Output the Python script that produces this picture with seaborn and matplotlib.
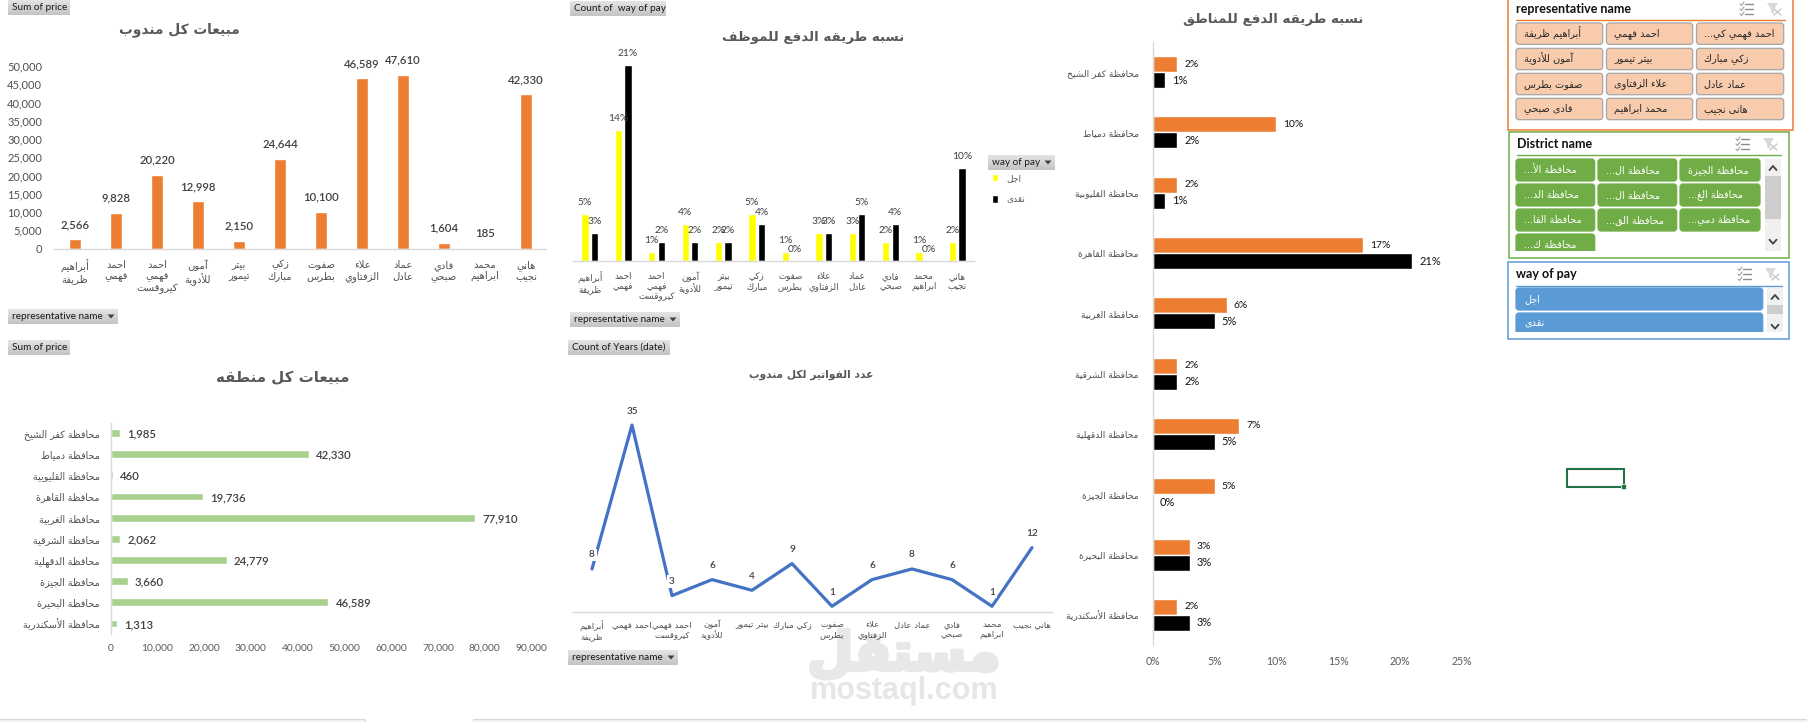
import numpy as np
import pandas as pd
import matplotlib
matplotlib.use('Agg')
import matplotlib.pyplot as plt
import matplotlib.patheffects as pe
from matplotlib.colors import LinearSegmentedColormap
import seaborn as sns
from matplotlib.patches import FancyBboxPatch, Rectangle, Polygon

W, H = 1808, 722

# arabic shaping, matplotlib does not join the letters on its own
AR_FORMS = {
    'ء': ('\uFE80', None, None, None), 'آ': ('\uFE81', '\uFE82', None, None), 'أ': ('\uFE83', '\uFE84', None, None),
    'ا': ('\uFE8D', '\uFE8E', None, None), 'ب': ('\uFE8F', '\uFE90', '\uFE91', '\uFE92'),
    'ة': ('\uFE93', '\uFE94', None, None), 'ت': ('\uFE95', '\uFE96', '\uFE97', '\uFE98'),
    'ج': ('\uFE9D', '\uFE9E', '\uFE9F', '\uFEA0'), 'ح': ('\uFEA1', '\uFEA2', '\uFEA3', '\uFEA4'),
    'خ': ('\uFEA5', '\uFEA6', '\uFEA7', '\uFEA8'), 'د': ('\uFEA9', '\uFEAA', None, None),
    'ذ': ('\uFEAB', '\uFEAC', None, None), 'ر': ('\uFEAD', '\uFEAE', None, None),
    'ز': ('\uFEAF', '\uFEB0', None, None), 'س': ('\uFEB1', '\uFEB2', '\uFEB3', '\uFEB4'),
    'ش': ('\uFEB5', '\uFEB6', '\uFEB7', '\uFEB8'), 'ص': ('\uFEB9', '\uFEBA', '\uFEBB', '\uFEBC'),
    'ض': ('\uFEBD', '\uFEBE', '\uFEBF', '\uFEC0'), 'ط': ('\uFEC1', '\uFEC2', '\uFEC3', '\uFEC4'),
    'ظ': ('\uFEC5', '\uFEC6', '\uFEC7', '\uFEC8'), 'ع': ('\uFEC9', '\uFECA', '\uFECB', '\uFECC'),
    'غ': ('\uFECD', '\uFECE', '\uFECF', '\uFED0'), 'ف': ('\uFED1', '\uFED2', '\uFED3', '\uFED4'),
    'ق': ('\uFED5', '\uFED6', '\uFED7', '\uFED8'), 'ك': ('\uFED9', '\uFEDA', '\uFEDB', '\uFEDC'),
    'ل': ('\uFEDD', '\uFEDE', '\uFEDF', '\uFEE0'), 'م': ('\uFEE1', '\uFEE2', '\uFEE3', '\uFEE4'),
    'ن': ('\uFEE5', '\uFEE6', '\uFEE7', '\uFEE8'), 'ه': ('\uFEE9', '\uFEEA', '\uFEEB', '\uFEEC'),
    'و': ('\uFEED', '\uFEEE', None, None), 'ى': ('\uFEEF', '\uFEF0', None, None),
    'ي': ('\uFEF1', '\uFEF2', '\uFEF3', '\uFEF4'),
}
LAM_ALEF = {'ا': ('\uFEFB', '\uFEFC'), 'أ': ('\uFEF7', '\uFEF8'), 'آ': ('\uFEF5', '\uFEF6')}


def ar_line(s):
    out = []
    i = 0
    while i < len(s):
        c = s[i]
        if c not in AR_FORMS:
            out.append(c)
            i += 1
            continue
        prev = s[i - 1] if i > 0 else ''
        joins_prev = prev in AR_FORMS and AR_FORMS[prev][2] is not None
        if c == 'ل' and i + 1 < len(s) and s[i + 1] in LAM_ALEF:
            out.append(LAM_ALEF[s[i + 1]][1 if joins_prev else 0])
            i += 2
            continue
        nxt = s[i + 1] if i + 1 < len(s) else ''
        joins_next = nxt in AR_FORMS and AR_FORMS[c][2] is not None
        iso, fin, ini, med = AR_FORMS[c]
        if joins_prev and joins_next:
            out.append(med)
        elif joins_prev:
            out.append(fin)
        elif joins_next:
            out.append(ini)
        else:
            out.append(iso)
        i += 1
    return ''.join(reversed(out))


def ar(s):
    return '\n'.join(ar_line(p) for p in s.split('\n'))


# data
rep_names = ['أبراهيم\nظريفة', 'احمد\nفهمي', 'احمد\nفهمي\nكيروقست', 'آمون\nللأدوية', 'بيتر\nتيمور', 'زكي\nمبارك',
             'صفوت\nبطرس', 'علاء\nالزفتاوي', 'عماد\nعادل', 'فادي\nصبحي', 'محمد\nابراهيم', 'هاني\nنجيب']
rep_names_line = ['أبراهيم\nظريفة', 'احمد فهمي', 'احمد فهمي\nكيروقست', 'آمون\nللأدوية', 'بيتر تيمور', 'زكي مبارك',
                  'صفوت\nبطرس', 'علاء\nالزفتاوي', 'عماد عادل', 'فادي\nصبحي', 'محمد\nابراهيم', 'هاني نجيب']
rep_sales = [2566, 9828, 20220, 12998, 2150, 24644, 10100, 46589, 47610, 1604, 185, 42330]
rep_pay_credit = [5, 14, 1, 4, 2, 5, 1, 3, 3, 2, 1, 2]
rep_pay_cash = [3, 21, 2, 2, 2, 4, 0, 3, 5, 4, 0, 10]
rep_invoices = [8, 35, 3, 6, 4, 9, 1, 6, 8, 6, 1, 12]

districts = ['محافظة كفر الشيخ', 'محافظة دمياط', 'محافظة القليوبية', 'محافظة القاهرة', 'محافظة الغربية',
             'محافظة الشرقية', 'محافظة الدقهلية', 'محافظة الجيزة', 'محافظة البحيرة', 'محافظة الأسكندرية']
district_sales = [1985, 42330, 460, 19736, 77910, 2062, 24779, 3660, 46589, 1313]
district_credit = [2, 10, 2, 17, 6, 2, 7, 5, 3, 2]
district_cash = [1, 2, 1, 21, 5, 2, 5, 0, 3, 3]

pay_types = ['اجل', 'نقدى']
ORANGE = '#ED7D31'
GREY_TXT = '#595959'
AR_TXT = '#505050'
DARK_TXT = '#404040'
LAT = ['Lato', 'DejaVu Sans']

sns.set_theme(style='white')
plt.rcParams['font.family'] = LAT
plt.rcParams['axes.unicode_minus'] = False

fig = plt.figure(figsize=(W / 100, H / 100), dpi=100, facecolor='white')


def axes_px(x0, y0, x1, y1, **kw):
    # rect in picture pixels, y going down
    return fig.add_axes([x0 / W, 1 - y1 / H, (x1 - x0) / W, (y1 - y0) / H], **kw)


def clean(ax, keep):
    for name, sp in ax.spines.items():
        sp.set_visible(name == keep)
        sp.set_color('#D9D9D9')
        sp.set_linewidth(1.0)
    ax.set_xlabel('')
    ax.set_ylabel('')
    ax.set_facecolor('none')


# overlay in picture pixels for the excel decoration
deco = fig.add_axes([0, 0, 1, 1], zorder=0)
deco.set_xlim(0, W)
deco.set_ylim(H, 0)
deco.axis('off')

# watermark goes under the charts
deco.text(904, 655, ar('مستقل'), family='DejaVu Sans', weight='bold', fontsize=38, color='#E8E8E8', ha='center', va='center',
          path_effects=[pe.withStroke(linewidth=3, foreground='#E8E8E8')])
deco.text(904, 691, 'mostaql.com', family='Liberation Sans', weight='bold', fontsize=22, color='#E6E6E6', ha='center', va='center')

deco.add_patch(Rectangle((-2, 719), 367, 6, fc='#F2F2F2', ec='#D9D9D9', lw=0.8))
deco.add_patch(Rectangle((473, 719), 1338, 6, fc='#F2F2F2', ec='#D9D9D9', lw=0.8))

# selected excel cell
deco.add_patch(Rectangle((1567, 469), 57, 18, fc='none', ec='#217346', lw=1.5))
deco.add_patch(Rectangle((1621, 484), 5, 5, fc='#217346', ec='white', lw=0.5))

grad = np.linspace(0, 1, 16).reshape(-1, 1)
btn_cmap = LinearSegmentedColormap.from_list('btn', ['#E4E4E4', '#C4C4C4'])


def field_button(x0, y0, x1, y1, label, arrow=False):
    deco.imshow(grad, extent=(x0, x1, y1, y0), cmap=btn_cmap, aspect='auto', zorder=1)
    deco.text(x0 + 4, (y0 + y1) / 2, label, fontsize=7.2, color='#1A1A1A', va='center', ha='left', zorder=2)
    if arrow:
        ax_ = x1 - 7
        ym = (y0 + y1) / 2
        deco.add_patch(Polygon([(ax_ - 3.5, ym - 2), (ax_ + 3.5, ym - 2), (ax_, ym + 2)], fc='#404040', ec='none', zorder=2))


field_button(8, 0, 70, 15, 'Sum of price')
field_button(8, 309, 118, 324, 'representative name', True)
field_button(8, 340, 70, 355, 'Sum of price')
field_button(570, 1, 666, 16, 'Count of  way of pay')
field_button(570, 312, 680, 327, 'representative name', True)
field_button(568, 340, 670, 355, 'Count of Years (date)')
field_button(568, 650, 678, 665, 'representative name', True)
field_button(988, 155, 1055, 170, 'way of pay', True)
deco.set_xlim(0, W)
deco.set_ylim(H, 0)


def chart_title(x, y, s, size):
    deco.text(x, y, ar(s), family='DejaVu Sans', weight='bold', fontsize=size, color=GREY_TXT, ha='center', va='center')


chart_title(179, 30, 'مبيعات كل مندوب', 9.9)
chart_title(813, 37, 'نسبه طريقه الدفع للموظف', 9.6)
chart_title(283, 378, 'مبيعات كل منطقه', 10.8)
chart_title(811, 375, 'عدد الفواتير لكل مندوب', 7.7)
chart_title(1273, 20, 'نسبه طريقه الدفع للمناطق', 9.6)

# chart 1, sales per representative
ax1 = axes_px(54.5, 66, 546.5, 248.5)
df1 = pd.DataFrame({'rep': [ar(n) for n in rep_names], 'sales': rep_sales})
sns.barplot(data=df1, x='rep', y='sales', color=ORANGE, saturation=1, width=0.31, ax=ax1)
ax1.set_ylim(0, 50000)
ax1.set_yticks(np.arange(0, 50001, 5000))
ax1.set_yticklabels([f'{v:,}' for v in np.arange(0, 50001, 5000)], fontsize=8, color=AR_TXT)
ax1.tick_params(axis='both', length=0)
ax1.tick_params(axis='y', pad=9)
ax1.tick_params(axis='x', pad=8)
clean(ax1, 'bottom')
for lab in ax1.get_xticklabels():
    lab.set_family('DejaVu Sans')
    lab.set_fontsize(7.2)
    lab.set_color(AR_TXT)
    lab.set_linespacing(1.15)
for i, v in enumerate(rep_sales):
    ax1.annotate(f'{v:,}', (i, v), xytext=(0, 9), textcoords='offset pixels', ha='center', va='bottom',
                 fontsize=8.2, weight='semibold', color=DARK_TXT, annotation_clip=False)

# chart 2, pay type per representative
ax2 = axes_px(573, 47, 974, 261)
df2 = pd.DataFrame({'rep': [ar(n) for n in rep_names] * 2,
                    'pct': rep_pay_credit + rep_pay_cash,
                    'way': [ar(pay_types[0])] * 12 + [ar(pay_types[1])] * 12})
sns.barplot(data=df2, x='rep', y='pct', hue='way', palette=['#FFFF00', '#000000'], saturation=1,
            width=0.57, gap=0.23, ax=ax2)
ax2.set_ylim(0, 214 / 9.33)
ax2.set_yticks([])
ax2.tick_params(axis='x', length=0, pad=8)
clean(ax2, 'bottom')
for lab in ax2.get_xticklabels():
    lab.set_family('DejaVu Sans')
    lab.set_fontsize(6.3)
    lab.set_color(AR_TXT)
    lab.set_linespacing(1.15)
for cont, vals in zip(ax2.containers, [rep_pay_credit, rep_pay_cash]):
    for bar, v in zip(cont, vals):
        ax2.annotate(f'{v}%', (bar.get_x() + bar.get_width() / 2, v), xytext=(0, 7), textcoords='offset pixels',
                     ha='center', va='bottom', fontsize=7.4, color=DARK_TXT, annotation_clip=False)
sns.move_legend(ax2, 'upper left', bbox_to_anchor=(989 / W, 1 - 171 / H), bbox_transform=fig.transFigure,
                frameon=False, title=None, prop={'family': 'DejaVu Sans', 'size': 6.5}, labelcolor=GREY_TXT,
                handlelength=0.75, handleheight=0.9, labelspacing=1.35, handletextpad=0.9, borderpad=0.3, borderaxespad=0)

# chart 3, sales per district
ax3 = axes_px(110.7, 422.5, 531.4, 634)
df3 = pd.DataFrame({'district': [ar(d) for d in districts], 'sales': district_sales})
sns.barplot(data=df3, y='district', x='sales', color='#A9D18E', saturation=1, width=0.37, ax=ax3)
ax3.set_xlim(0, 90000)
ax3.set_xticks(np.arange(0, 90001, 10000))
ax3.set_xticklabels([f'{v:,}' for v in np.arange(0, 90001, 10000)], fontsize=7.4, color=GREY_TXT)
ax3.tick_params(axis='both', length=0)
ax3.tick_params(axis='x', pad=7)
ax3.tick_params(axis='y', pad=8)
clean(ax3, 'left')
for lab in ax3.get_yticklabels():
    lab.set_family('DejaVu Sans')
    lab.set_fontsize(6.9)
    lab.set_color(AR_TXT)
for i, v in enumerate(district_sales):
    ax3.annotate(f'{v:,}', (v, i), xytext=(7, -1), textcoords='offset pixels', va='center', ha='left',
                 fontsize=8.2, weight='semibold', color=DARK_TXT, annotation_clip=False)

# chart 4, invoices per representative
ax4 = axes_px(572, 398.4, 1052, 611.6)
df4 = pd.DataFrame({'rep': [ar(n) for n in rep_names_line], 'n': rep_invoices})
sns.lineplot(data=df4, x='rep', y='n', sort=False, color='#4472C4', linewidth=2.3, ax=ax4)
ax4.set_xlim(-0.5, 11.5)
ax4.set_ylim(0, 40)
ax4.set_yticks([])
ax4.tick_params(axis='x', length=0, pad=6)
clean(ax4, 'bottom')
for lab in ax4.get_xticklabels():
    lab.set_family('DejaVu Sans')
    lab.set_fontsize(6.1)
    lab.set_color(AR_TXT)
    lab.set_linespacing(1.15)
for i, v in enumerate(rep_invoices):
    ax4.annotate(f'{v}', (i, v), xytext=(0, 14), textcoords='offset pixels', ha='center', va='center', fontsize=7.2,
                 weight='semibold', color=DARK_TXT, annotation_clip=False,
                 bbox=dict(fc='white', ec='none', pad=1.2))

# chart 5, pay type per district
ax5 = axes_px(1152.7, 42, 1461.7, 645)
df5 = pd.DataFrame({'district': [ar(d) for d in districts] * 2,
                    'pct': district_credit + district_cash,
                    'way': [ar(pay_types[0])] * 10 + [ar(pay_types[1])] * 10})
sns.barplot(data=df5, y='district', x='pct', hue='way', palette=[ORANGE, '#000000'], saturation=1,
            width=0.53, gap=0, legend=False, ax=ax5)
ax5.set_xlim(0, 25)
ax5.set_xticks(np.arange(0, 26, 5))
ax5.set_xticklabels([f'{v}%' for v in np.arange(0, 26, 5)], fontsize=7.6, color=GREY_TXT)
ax5.tick_params(axis='both', length=0)
ax5.tick_params(axis='x', pad=8)
ax5.tick_params(axis='y', pad=10)
clean(ax5, 'left')
for lab in ax5.get_yticklabels():
    lab.set_family('DejaVu Sans')
    lab.set_fontsize(6.6)
    lab.set_color(AR_TXT)
for cont, vals, size in zip(ax5.containers, [district_credit, district_cash], [7.4, 8]):
    for bar, v in zip(cont, vals):
        ax5.annotate(f'{v}%', (v, bar.get_y() + bar.get_height() / 2), xytext=(7, 0), textcoords='offset pixels',
                     va='center', ha='left', fontsize=size, color='#111111', annotation_clip=False)


# slicers
def slicer_icons(x, y):
    # multi select icon
    for k in range(3):
        yy = y - 5 + k * 5
        deco.plot([x + 4, x + 12], [yy, yy], color='#8C8C8C', lw=1, zorder=3)
        deco.plot([x - 1, x + 0.5, x + 3], [yy, yy + 1.5, yy - 2], color='#A0A0A0', lw=0.8, zorder=3)
    # clear filter icon
    fx = x + 27
    deco.add_patch(Polygon([(fx - 1, y - 6), (fx + 10, y - 6), (fx + 6, y), (fx + 6, y + 5), (fx + 3, y + 3), (fx + 3, y)],
                           fc='#D9D9D9', ec='none', zorder=3))
    deco.plot([fx + 6, fx + 13], [y + 0, y + 6], color='#C8C8C8', lw=1, zorder=3)
    deco.plot([fx + 6, fx + 13], [y + 6, y + 0], color='#C8C8C8', lw=1, zorder=3)


def slicer(x0, y0, x1, y1, color, title, title_x, title_y, line_y, line_x1, icon_x):
    deco.add_patch(Rectangle((x0, y0), x1 - x0, y1 - y0, fc='white', ec=color, lw=1.1, zorder=1))
    deco.text(title_x, title_y, title, weight='bold', fontsize=9, color='#111111', va='center', ha='left', zorder=3)
    deco.plot([title_x, line_x1], [line_y, line_y], color=color, lw=1, zorder=3)
    slicer_icons(icon_x, title_y)


def chip(x0, y0, x1, y1, s, fc, ec, tc, clip_bottom=None):
    p = FancyBboxPatch((x0 + 2, y0 + 2), x1 - x0 - 4, y1 - y0 - 4, boxstyle='round,pad=2,rounding_size=3',
                       fc=fc, ec=ec, lw=0.9, zorder=2)
    deco.add_patch(p)
    txt = deco.text(x0 + 8, (y0 + y1) / 2, ar(s), family='DejaVu Sans', fontsize=7, color=tc, va='center', ha='left', zorder=3)
    if clip_bottom is not None:
        clip = Rectangle((x0 - 3, y0 - 3), x1 - x0 + 6, clip_bottom - y0 + 3, transform=deco.transData)
        p.set_clip_path(clip)
        txt.set_clip_path(clip)


def scrollbar(x0, x1, y0, y1, t0, t1):
    deco.add_patch(Rectangle((x0, y0), x1 - x0, y1 - y0, fc='#F0F0F0', ec='none', zorder=2))
    deco.add_patch(Rectangle((x0, t0), x1 - x0, t1 - t0, fc='#CDCDCD', ec='none', zorder=3))
    xm = (x0 + x1) / 2
    deco.plot([xm - 3.5, xm, xm + 3.5], [y0 + 11, y0 + 7, y0 + 11], color='#404040', lw=1.3, zorder=4)
    deco.plot([xm - 3.5, xm, xm + 3.5], [y1 - 7, y1 - 3, y1 - 7] if y1 - y0 < 60 else [y1 - 11, y1 - 7, y1 - 11],
              color='#404040', lw=1.3, zorder=4)


rep_chips = ['أبراهيم ظريفة', 'احمد فهمي', 'احمد فهمي كي...', 'آمون للأدوية', 'بيتر تيمور', 'زكي مبارك',
             'صفوت بطرس', 'علاء الزفتاوى', 'عماد عادل', 'فادى صبحي', 'محمد ابراهيم', 'هانى نجيب']
district_chips = ['محافظة الأ...', 'محافظة ال...', 'محافظة الجيزة', 'محافظة الد...', 'محافظة ال...', 'محافظة الغ...',
                  'محافظة القا...', 'محافظة الق...', 'محافظة دمي...', 'محافظة ك...']

slicer(1508, -1, 1793, 130, ORANGE, 'representative name', 1516, 9, 20, 1785, 1741)
cols = [(1516, 1602.7), (1606.5, 1692.7), (1696.5, 1783.7)]
rows = [(23, 44.3), (48.3, 69.7), (73.3, 94.7), (98.3, 119.7)]
for k, s in enumerate(rep_chips):
    c = cols[k % 3]
    r = rows[k // 3]
    chip(c[0], r[0], c[1], r[1], s, '#F8CBAD', '#A6A6A6', '#262626')

slicer(1509, 132, 1788.7, 258, '#70AD47', 'District name', 1517, 144, 155, 1781, 1737)
cols = [(1516, 1594.7), (1598, 1676.7), (1680, 1760)]
rows = [(159, 181), (184, 206), (209, 231), (234, 256)]
for k, s in enumerate(district_chips):
    c = cols[k % 3]
    r = rows[k // 3]
    chip(c[0], r[0], c[1], r[1], s, '#70AD47', '#70AD47', 'white', clip_bottom=251)
scrollbar(1765, 1781, 159, 250.7, 176, 219)

slicer(1508, 262, 1789, 339, '#5B9BD5', 'way of pay', 1516, 274, 285.7, 1782, 1739)
chip(1516, 288, 1762.7, 310, pay_types[0], '#5B9BD5', '#5B9BD5', 'white')
chip(1516, 313, 1762.7, 335, pay_types[1], '#5B9BD5', '#5B9BD5', 'white', clip_bottom=332)
scrollbar(1767, 1783, 288, 331.7, 305, 314)

deco.set_xlim(0, W)
deco.set_ylim(H, 0)

fig.savefig('out.png', dpi=100, facecolor='white')
